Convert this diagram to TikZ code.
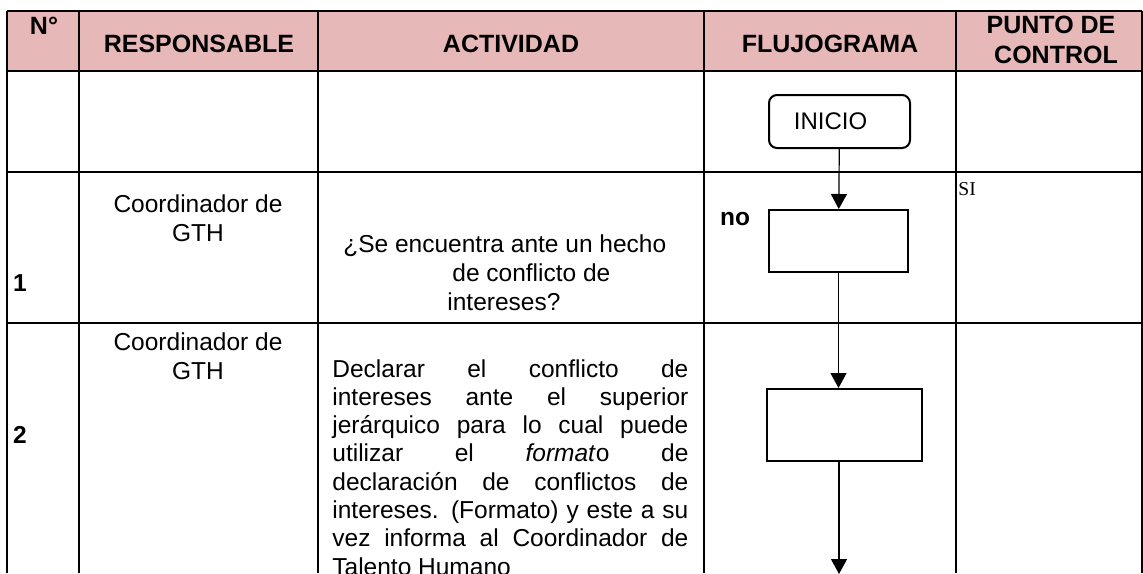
\documentclass[tikz,border=0pt]{standalone}
\usepackage{fontspec}
\setmainfont{Liberation Sans}
\newfontfamily\siserif{Liberation Serif}
\usetikzlibrary{positioning, arrows.meta}
\definecolor{headpink}{HTML}{E6B8B7}
\newcommand{\jline}[1]{\makebox[178pt][s]{#1}}

\begin{document}
\begin{tikzpicture}[x=0.5pt, y=-0.5pt, >={Triangle[length=7.5pt,width=8pt]},
		hd/.style={font=\fontsize{12.5}{14.5}\selectfont\bfseries, inner sep=0pt, anchor=base},
		txt/.style={font=\fontsize{12.25}{14.15}\selectfont, inner sep=0pt, anchor=base},
		flowbox/.style={draw, line width=1pt, inner sep=0pt},
		grid/.style={line width=1pt}]
		
		\useasboundingbox (0,0) rectangle (1143,573);
		\clip (0,0) rectangle (1143,573);
		
		% Header band
		\fill[headpink] (7,11) rectangle (1141,71);
		
		% Draw table lines
		\foreach \y in {11,71,172,323}
		\draw[grid] (7,\y) -- (1142,\y);
		\foreach \x in {7,79,318,704,956,1141.5}
		\draw[grid] (\x,11) -- (\x,573);
		
		% Header texts
		\node[hd] (hnum) at (44,34) {N°};
		\node[hd] (hresp) at (199,52) {RESPONSABLE};
		\node[hd] (hact) at (511,52) {ACTIVIDAD};
		\node[hd] (hflujo) at (830,52) {FLUJOGRAMA};
		\node[hd] (hpunto) at (1051,33) {PUNTO DE};
		\node[hd] (hcontrol) at (1056,63) {CONTROL};
		
		% Row 1
		\node[txt, font=\fontsize{12.25}{14.15}\selectfont\bfseries] (num1) at (20,291) {1};
		\node[txt] (resp1a) at (198,212) {Coordinador de};
		\node[txt] (resp1b) at (198,241) {GTH};
		\node[txt, anchor=base west] (act1a) at (343,252) {¿Se encuentra ante un hecho};
		\node[txt, anchor=base west] (act1b) at (452,281) {de conflicto de};
		\node[txt, anchor=base west] (act1c) at (447,310) {intereses?};
		
		% Row 2
		\node[txt, font=\fontsize{12.25}{14.15}\selectfont\bfseries] (num2) at (20,443) {2};
		\node[txt] (resp2a) at (198,350) {Coordinador de};
		\node[txt] (resp2b) at (198,379) {GTH};
		\foreach \ln [count=\k from 0] in {
			{\jline{Declarar el conflicto de}},
			{\jline{intereses ante el superior}},
			{\jline{jerárquico para lo cual puede}},
			{\jline{utilizar el \textit{format}o de}},
			{\jline{declaración de conflictos de}},
			{\jline{intereses. (Formato) y este a su}},
			{\jline{vez informa al Coordinador de}},
			{Talento Humano}}
		\node[txt, anchor=base west] (act2-\k) at (332,377+28.3*\k) {\ln};
		
		% Flowchart
		\node[flowbox, rounded corners=4pt, minimum width=70.5pt, minimum height=26.5pt,
		font=\fontsize{12}{14}\selectfont] (inicio) at (839.5,121.5) {INICIO\hspace*{9pt}};
		\node[flowbox, minimum width=69.5pt, minimum height=31pt] (box1) at (838.5,241) {};
		\node[flowbox, minimum width=77.5pt, minimum height=36pt] (box2) at (844.5,425) {};
		\coordinate (fin) at (839,574);
		
		\draw[->, line width=0.6pt] (inicio) -- (box1);
		\draw[->, line width=0.6pt] (box1.south) -- (box1.south |- box2.north);
		\draw[->, line width=0.6pt] (box2.south -| fin) -- (fin);
		
		% Labels
		\node[txt, font=\fontsize{12.25}{14.15}\selectfont\bfseries] (no) at (735,225) {no};
		\node[txt, anchor=base west, font=\fontsize{9.8}{11}\siserif] (si) at (958,195) {SI};
		
	\end{tikzpicture}
\end{document}
